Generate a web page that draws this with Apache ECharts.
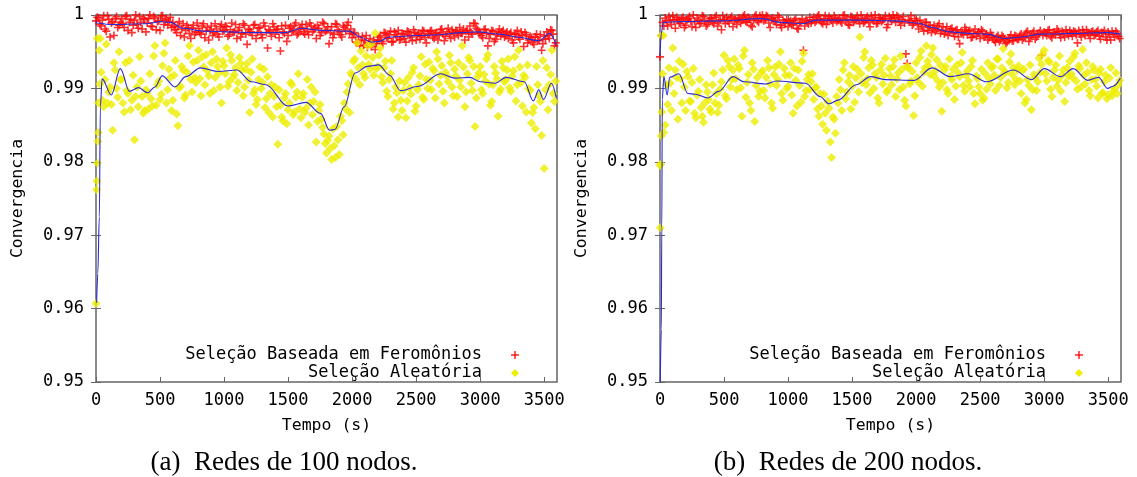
<!DOCTYPE html>
<html>
<head>
<meta charset="utf-8">
<script src="https://cdn.jsdelivr.net/npm/echarts@6/dist/echarts.min.js"></script>
<style>
  html, body { margin: 0; padding: 0; background: #fff; }
  #chart { width: 1137px; height: 477px; }
</style>
</head>
<body>
<div id="chart"></div>
<script>
// sample times for the scatter series: two interleaved runs, every 20 s
var times = [];
for (var t = 0; t < 3600; t += 20) times.push(t);

// (a) Redes de 100 nodos
var feroA = [
  0.9992, 0.9996, 0.9985, 0.9999, 0.9978, 0.9994, 0.9989, 0.9972, 0.9998, 0.9986,
  0.9995, 0.9983, 0.9999, 0.9990, 0.9976, 0.9993, 0.9987, 0.9998, 0.9981, 0.9994,
  0.9989, 1.0000, 0.9984, 0.9996, 0.9991, 0.9979, 0.9999, 0.9993, 0.9986, 0.9997,
  0.9990, 0.9980, 0.9985, 0.9972, 0.9988, 0.9979, 0.9983, 0.9968, 0.9986, 0.9977,
  0.9982, 0.9974, 0.9988, 0.9978, 0.9966, 0.9985, 0.9976, 0.9981, 0.9970, 0.9987,
  0.9979, 0.9984, 0.9973, 0.9989, 0.9977, 0.9968, 0.9983, 0.9975, 0.9986, 0.9960,
  0.9980, 0.9972, 0.9987, 0.9976, 0.9983, 0.9969, 0.9985, 0.9955, 0.9978, 0.9988,
  0.9974, 0.9981, 0.9951, 0.9977, 0.9986, 0.9972, 0.9984, 0.9979, 0.9989, 0.9975,
  0.9983, 0.9977, 0.9987, 0.9973, 0.9985, 0.9980, 0.9968, 0.9982, 0.9976, 0.9988,
  0.9979, 0.9961, 0.9984, 0.9974, 0.9987, 0.9977, 0.9970, 0.9983, 0.9986, 0.9975,
  0.9969, 0.9976, 0.9962, 0.9958, 0.9971, 0.9965, 0.9956, 0.9968, 0.9960, 0.9953,
  0.9966, 0.9972, 0.9961, 0.9975, 0.9968, 0.9978, 0.9964, 0.9973, 0.9979, 0.9967,
  0.9974, 0.9963, 0.9977, 0.9970, 0.9980, 0.9966, 0.9975, 0.9971, 0.9978, 0.9962,
  0.9973, 0.9979, 0.9968, 0.9976, 0.9972, 0.9981, 0.9965, 0.9977, 0.9974, 0.9980,
  0.9970, 0.9977, 0.9983, 0.9975, 0.9966, 0.9979, 0.9985, 0.9974, 0.9988, 0.9980,
  0.9976, 0.9969, 0.9981, 0.9958, 0.9974, 0.9978, 0.9967, 0.9976, 0.9971, 0.9979,
  0.9972, 0.9968, 0.9976, 0.9962, 0.9974, 0.9970, 0.9977, 0.9957, 0.9973, 0.9966,
  0.9969, 0.9960, 0.9974, 0.9965, 0.9952, 0.9971, 0.9977, 0.9968, 0.9979, 0.9958
];
var feroA2 = [
  0.9997, 0.9987, 0.9993, 0.9981, 0.9999, 0.9970, 0.9991, 0.9995, 0.9983, 0.9990,
  0.9988, 0.9998, 0.9979, 0.9994, 0.9986, 1.0000, 0.9982, 0.9990, 0.9996, 0.9977,
  0.9995, 0.9985, 0.9998, 0.9980, 0.9992, 0.9999, 0.9987, 0.9995, 0.9991, 0.9983,
  0.9984, 0.9976, 0.9991, 0.9981, 0.9970, 0.9986, 0.9975, 0.9982, 0.9973, 0.9989,
  0.9976, 0.9985, 0.9969, 0.9983, 0.9979, 0.9972, 0.9988, 0.9974, 0.9984, 0.9978,
  0.9985, 0.9971, 0.9980, 0.9976, 0.9987, 0.9979, 0.9970, 0.9988, 0.9974, 0.9981,
  0.9977, 0.9986, 0.9968, 0.9982, 0.9973, 0.9989, 0.9976, 0.9980, 0.9971, 0.9984,
  0.9980, 0.9969, 0.9985, 0.9975, 0.9964, 0.9982, 0.9977, 0.9986, 0.9973, 0.9981,
  0.9987, 0.9974, 0.9980, 0.9989, 0.9977, 0.9983, 0.9986, 0.9972, 0.9990, 0.9978,
  0.9984, 0.9976, 0.9969, 0.9988, 0.9980, 0.9973, 0.9985, 0.9978, 0.9990, 0.9981,
  0.9974, 0.9963, 0.9970, 0.9966, 0.9959, 0.9972, 0.9962, 0.9957, 0.9966, 0.9961,
  0.9970, 0.9964, 0.9976, 0.9969, 0.9973, 0.9963, 0.9977, 0.9970, 0.9966, 0.9975,
  0.9968, 0.9978, 0.9972, 0.9965, 0.9976, 0.9973, 0.9967, 0.9979, 0.9969, 0.9975,
  0.9978, 0.9970, 0.9975, 0.9966, 0.9980, 0.9974, 0.9971, 0.9982, 0.9968, 0.9976,
  0.9979, 0.9972, 0.9975, 0.9981, 0.9978, 0.9970, 0.9976, 0.9989, 0.9982, 0.9975,
  0.9972, 0.9980, 0.9975, 0.9968, 0.9979, 0.9964, 0.9973, 0.9981, 0.9977, 0.9970,
  0.9977, 0.9974, 0.9966, 0.9973, 0.9979, 0.9967, 0.9972, 0.9976, 0.9962, 0.9971,
  0.9963, 0.9970, 0.9966, 0.9973, 0.9961, 0.9967, 0.9972, 0.9980, 0.9974, 0.9962
];
var aleaA = [
  0.9607, 0.9880, 0.9922, 0.9875, 0.9960, 0.9895, 0.9878, 0.9935, 0.9900, 0.9950,
  0.9912, 0.9868, 0.9897, 0.9938, 0.9884, 0.9830, 0.9902, 0.9943, 0.9889, 0.9870,
  0.9893, 0.9920, 0.9876, 0.9958, 0.9905, 0.9885, 0.9931, 0.9962, 0.9898, 0.9915,
  0.9884, 0.9938, 0.9849, 0.9903, 0.9925, 0.9891, 0.9944, 0.9912, 0.9936, 0.9908,
  0.9952, 0.9890, 0.9929, 0.9946, 0.9917, 0.9935, 0.9897, 0.9940, 0.9921, 0.9880,
  0.9931, 0.9955, 0.9909, 0.9938, 0.9919, 0.9897, 0.9942, 0.9925, 0.9902, 0.9934,
  0.9867, 0.9940, 0.9898, 0.9885, 0.9929, 0.9908, 0.9874, 0.9916, 0.9893, 0.9861,
  0.9902, 0.9824, 0.9877, 0.9856, 0.9893, 0.9871, 0.9908, 0.9864, 0.9888, 0.9920,
  0.9860, 0.9893, 0.9873, 0.9850, 0.9902, 0.9882, 0.9827, 0.9870, 0.9858, 0.9838,
  0.9812, 0.9835, 0.9803, 0.9822, 0.9848, 0.9810, 0.9856, 0.9880, 0.9895, 0.9867,
  0.9918, 0.9940, 0.9962, 0.9905, 0.9932, 0.9915, 0.9958, 0.9926, 0.9942, 0.9975,
  0.9930, 0.9955, 0.9908, 0.9937, 0.9889, 0.9920, 0.9872, 0.9902, 0.9861, 0.9884,
  0.9897, 0.9860, 0.9915, 0.9892, 0.9928, 0.9876, 0.9905, 0.9943, 0.9885, 0.9912,
  0.9936, 0.9898, 0.9924, 0.9950, 0.9906, 0.9931, 0.9880, 0.9917, 0.9945, 0.9902,
  0.9926, 0.9889, 0.9911, 0.9958, 0.9875, 0.9920, 0.9938, 0.9897, 0.9848, 0.9916,
  0.9930, 0.9893, 0.9910, 0.9946, 0.9877, 0.9905, 0.9921, 0.9862, 0.9899, 0.9928,
  0.9912, 0.9940, 0.9896, 0.9924, 0.9883, 0.9952, 0.9908, 0.9918, 0.9868, 0.9900,
  0.9853, 0.9874, 0.9930, 0.9890, 0.9836, 0.9791, 0.9928, 0.9905, 0.9952, 0.9882
];
var aleaA2 = [
  0.9968, 0.9906, 0.9884, 0.9912, 0.9880, 0.9902, 0.9843, 0.9925, 0.9888, 0.9912,
  0.9880, 0.9935, 0.9893, 0.9871, 0.9918, 0.9889, 0.9875, 0.9910, 0.9866, 0.9898,
  0.9872, 0.9886, 0.9944, 0.9877, 0.9910, 0.9892, 0.9948, 0.9880, 0.9926, 0.9870,
  0.9918, 0.9865, 0.9901, 0.9930, 0.9887, 0.9922, 0.9958, 0.9895, 0.9915, 0.9938,
  0.9913, 0.9943, 0.9905, 0.9924, 0.9893, 0.9950, 0.9915, 0.9930, 0.9902, 0.9937,
  0.9920, 0.9903, 0.9946, 0.9915, 0.9928, 0.9908, 0.9934, 0.9890, 0.9926, 0.9911,
  0.9922, 0.9893, 0.9878, 0.9912, 0.9900, 0.9926, 0.9886, 0.9867, 0.9905, 0.9889,
  0.9875, 0.9898, 0.9861, 0.9887, 0.9852, 0.9880, 0.9905, 0.9868, 0.9895, 0.9872,
  0.9888, 0.9867, 0.9912, 0.9880, 0.9864, 0.9895, 0.9855, 0.9878, 0.9847, 0.9825,
  0.9829, 0.9818, 0.9845, 0.9806, 0.9830, 0.9862, 0.9837, 0.9872, 0.9906, 0.9921,
  0.9937, 0.9912, 0.9928, 0.9951, 0.9920, 0.9944, 0.9933, 0.9960, 0.9918, 0.9927,
  0.9945, 0.9916, 0.9928, 0.9896, 0.9912, 0.9938, 0.9880, 0.9894, 0.9910, 0.9870,
  0.9908, 0.9883, 0.9901, 0.9922, 0.9869, 0.9898, 0.9917, 0.9888, 0.9933, 0.9900,
  0.9911, 0.9927, 0.9887, 0.9940, 0.9918, 0.9896, 0.9922, 0.9909, 0.9935, 0.9890,
  0.9917, 0.9935, 0.9902, 0.9929, 0.9895, 0.9942, 0.9907, 0.9930, 0.9887, 0.9921,
  0.9898, 0.9919, 0.9940, 0.9906, 0.9882, 0.9930, 0.9913, 0.9895, 0.9937, 0.9909,
  0.9925, 0.9901, 0.9917, 0.9943, 0.9905, 0.9929, 0.9876, 0.9915, 0.9932, 0.9897,
  0.9867, 0.9845, 0.9905, 0.9882, 0.9938, 0.9898, 0.9871, 0.9919, 0.9893, 0.9910
];
var aleaStartA = [[5, 0.9762], [8, 0.9774], [12, 0.9798], [15, 0.9828], [18, 0.9840], [26, 0.9952], [33, 0.9968]];
var feroTrendA = [
  [0, 0.9992], [6, 0.9989], [105, 0.9987], [389, 0.9988], [503, 0.9991], [588, 0.9990],
  [673, 0.9982], [844, 0.9978], [1014, 0.9977], [1241, 0.9976], [1469, 0.9976],
  [1611, 0.9982], [1753, 0.9979], [1980, 0.9978], [2065, 0.9970], [2151, 0.9963],
  [2207, 0.9964], [2293, 0.9970], [2520, 0.9972], [2662, 0.9973], [2861, 0.9976],
  [2975, 0.9977], [3145, 0.9974], [3287, 0.9970], [3458, 0.9965], [3543, 0.9975], [3594, 0.9959]
];
var aleaTrendA = [
  [5, 0.9608], [14, 0.9648], [26, 0.9725], [34, 0.9875], [48, 0.9913], [119, 0.9891],
  [190, 0.9927], [261, 0.9896], [332, 0.9901], [403, 0.9894], [460, 0.9902], [517, 0.9917],
  [617, 0.9902], [702, 0.9916], [815, 0.9928], [957, 0.9923], [1100, 0.9925], [1213, 0.9909],
  [1327, 0.9905], [1497, 0.9876], [1639, 0.9881], [1753, 0.9866], [1824, 0.9843],
  [1866, 0.9844], [1938, 0.9875], [2023, 0.9921], [2122, 0.9930], [2207, 0.9932],
  [2293, 0.9918], [2378, 0.9897], [2520, 0.9903], [2690, 0.9920], [2804, 0.9914],
  [2918, 0.9915], [3003, 0.9909], [3116, 0.9907], [3202, 0.9915], [3344, 0.9909],
  [3415, 0.9883], [3458, 0.9898], [3494, 0.9885], [3557, 0.9907], [3594, 0.9887]
];

// (b) Redes de 200 nodos
var feroB = [
  0.9943, 0.9990, 0.9996, 0.9985, 0.9993, 0.9999, 0.9982, 0.9994, 0.9988, 0.9997,
  0.9986, 0.9995, 0.9991, 1.0000, 0.9983, 0.9993, 0.9989, 0.9998, 0.9985, 0.9992,
  0.9996, 0.9988, 0.9999, 0.9991, 0.9980, 0.9994, 0.9997, 0.9989, 0.9998, 0.9992,
  0.9987, 0.9996, 0.9993, 1.0000, 0.9990, 0.9995, 0.9984, 0.9998, 0.9992, 0.9999,
  1.0000, 0.9994, 0.9998, 0.9983, 0.9996, 0.9991, 0.9999, 0.9986, 0.9993, 0.9989,
  0.9984, 0.9992, 0.9987, 0.9995, 0.9981, 0.9990, 0.9952, 0.9993, 0.9988, 0.9989,
  0.9997, 0.9992, 1.0000, 0.9990, 0.9995, 0.9987, 0.9998, 0.9993, 0.9999, 0.9991,
  0.9996, 0.9989, 1.0000, 0.9994, 0.9986, 0.9997, 0.9992, 0.9999, 0.9988, 0.9995,
  0.9991, 0.9998, 0.9984, 0.9994, 1.0000, 0.9989, 0.9996, 0.9993, 0.9999, 0.9987,
  0.9995, 1.0000, 0.9990, 0.9997, 0.9986, 0.9998, 0.9947, 0.9993, 0.9999, 0.9988,
  0.9992, 0.9981, 0.9987, 0.9978, 0.9990, 0.9983, 0.9976, 0.9986, 0.9980, 0.9988,
  0.9979, 0.9974, 0.9984, 0.9977, 0.9982, 0.9971, 0.9980, 0.9961, 0.9976, 0.9983,
  0.9973, 0.9979, 0.9970, 0.9981, 0.9975, 0.9968, 0.9978, 0.9972, 0.9966, 0.9976,
  0.9969, 0.9963, 0.9972, 0.9966, 0.9970, 0.9961, 0.9968, 0.9973, 0.9965, 0.9971,
  0.9967, 0.9974, 0.9969, 0.9976, 0.9964, 0.9972, 0.9978, 0.9970, 0.9975, 0.9945,
  0.9977, 0.9972, 0.9980, 0.9969, 0.9976, 0.9981, 0.9973, 0.9978, 0.9970, 0.9975,
  0.9979, 0.9971, 0.9977, 0.9962, 0.9974, 0.9980, 0.9972, 0.9976, 0.9968, 0.9978,
  0.9973, 0.9979, 0.9967, 0.9975, 0.9970, 0.9977, 0.9966, 0.9974, 0.9978, 0.9971
];
var feroB2 = [
  0.9972, 0.9985, 0.9992, 0.9998, 0.9987, 0.9993, 0.9997, 0.9989, 0.9995, 0.9983,
  0.9993, 0.9998, 0.9984, 0.9991, 0.9996, 0.9988, 0.9999, 0.9992, 0.9987, 0.9995,
  0.9990, 0.9997, 0.9985, 0.9993, 0.9999, 0.9988, 0.9992, 0.9996, 0.9984, 0.9994,
  0.9995, 0.9989, 0.9998, 0.9991, 0.9997, 0.9986, 0.9993, 1.0000, 0.9990, 0.9996,
  0.9992, 0.9999, 0.9989, 0.9995, 0.9993, 0.9987, 0.9997, 0.9983, 0.9990, 0.9994,
  0.9990, 0.9986, 0.9993, 0.9982, 0.9989, 0.9995, 0.9985, 0.9991, 0.9997, 0.9993,
  0.9990, 0.9998, 0.9994, 0.9988, 0.9999, 0.9992, 0.9995, 0.9989, 0.9996, 0.9993,
  0.9991, 0.9999, 0.9993, 0.9987, 0.9998, 0.9990, 0.9995, 0.9993, 1.0000, 0.9989,
  0.9996, 0.9990, 0.9999, 0.9992, 0.9988, 0.9997, 0.9991, 0.9995, 0.9983, 0.9998,
  0.9992, 0.9996, 0.9999, 0.9991, 0.9994, 0.9989, 0.9934, 0.9992, 0.9986, 0.9995,
  0.9988, 0.9993, 0.9984, 0.9990, 0.9979, 0.9986, 0.9982, 0.9978, 0.9985, 0.9975,
  0.9984, 0.9978, 0.9972, 0.9981, 0.9975, 0.9979, 0.9970, 0.9977, 0.9973, 0.9980,
  0.9978, 0.9969, 0.9975, 0.9971, 0.9977, 0.9980, 0.9970, 0.9974, 0.9969, 0.9972,
  0.9966, 0.9970, 0.9964, 0.9972, 0.9967, 0.9963, 0.9969, 0.9965, 0.9972, 0.9967,
  0.9972, 0.9966, 0.9971, 0.9978, 0.9969, 0.9975, 0.9967, 0.9973, 0.9979, 0.9972,
  0.9975, 0.9979, 0.9971, 0.9976, 0.9973, 0.9978, 0.9969, 0.9975, 0.9980, 0.9972,
  0.9975, 0.9978, 0.9973, 0.9979, 0.9970, 0.9976, 0.9980, 0.9974, 0.9977, 0.9972,
  0.9977, 0.9971, 0.9976, 0.9979, 0.9966, 0.9973, 0.9978, 0.9970, 0.9975, 0.9968
];
var aleaB = [
  0.9795, 0.9920, 0.9850, 0.9878, 0.9907, 0.9955, 0.9925, 0.9858, 0.9913, 0.9933,
  0.9870, 0.9916, 0.9882, 0.9927, 0.9860, 0.9896, 0.9874, 0.9854, 0.9905, 0.9885,
  0.9868, 0.9921, 0.9893, 0.9877, 0.9909, 0.9945, 0.9886, 0.9930, 0.9912, 0.9940,
  0.9898, 0.9927, 0.9862, 0.9952, 0.9908, 0.9880, 0.9935, 0.9855, 0.9915, 0.9896,
  0.9924, 0.9887, 0.9938, 0.9906, 0.9873, 0.9929, 0.9912, 0.9950, 0.9884, 0.9918,
  0.9903, 0.9935, 0.9866, 0.9911, 0.9925, 0.9881, 0.9948, 0.9897, 0.9919, 0.9909,
  0.9885, 0.9902, 0.9862, 0.9876, 0.9892, 0.9843, 0.9873, 0.9806, 0.9858, 0.9889,
  0.9912, 0.9870, 0.9935, 0.9895, 0.9918, 0.9903, 0.9881, 0.9926, 0.9970, 0.9908,
  0.9950, 0.9913, 0.9894, 0.9932, 0.9920, 0.9887, 0.9925, 0.9906, 0.9941, 0.9898,
  0.9917, 0.9930, 0.9889, 0.9921, 0.9944, 0.9902, 0.9876, 0.9928, 0.9910, 0.9863,
  0.9935, 0.9908, 0.9951, 0.9922, 0.9958, 0.9930, 0.9946, 0.9917, 0.9939, 0.9902,
  0.9869, 0.9925, 0.9898, 0.9940, 0.9912, 0.9885, 0.9932, 0.9916, 0.9949, 0.9896,
  0.9924, 0.9902, 0.9938, 0.9879, 0.9913, 0.9893, 0.9884, 0.9920, 0.9935, 0.9906,
  0.9930, 0.9897, 0.9940, 0.9915, 0.9954, 0.9922, 0.9908, 0.9947, 0.9928, 0.9912,
  0.9931, 0.9893, 0.9926, 0.9885, 0.9904, 0.9871, 0.9919, 0.9897, 0.9941, 0.9933,
  0.9952, 0.9910, 0.9936, 0.9889, 0.9925, 0.9903, 0.9944, 0.9918, 0.9882, 0.9928,
  0.9937, 0.9915, 0.9948, 0.9899, 0.9927, 0.9953, 0.9906, 0.9922, 0.9890, 0.9930,
  0.9912, 0.9887, 0.9926, 0.9894, 0.9918, 0.9891, 0.9928, 0.9896, 0.9921, 0.9905
];
var aleaB2 = [
  0.9972, 0.9840, 0.9905, 0.9928, 0.9870, 0.9893, 0.9915, 0.9937, 0.9880, 0.9902,
  0.9923, 0.9883, 0.9908, 0.9866, 0.9891, 0.9912, 0.9862, 0.9880, 0.9895, 0.9872,
  0.9905, 0.9880, 0.9867, 0.9899, 0.9925, 0.9890, 0.9938, 0.9902, 0.9925, 0.9913,
  0.9932, 0.9901, 0.9944, 0.9888, 0.9919, 0.9870, 0.9926, 0.9904, 0.9889, 0.9921,
  0.9897, 0.9915, 0.9928, 0.9880, 0.9919, 0.9904, 0.9933, 0.9893, 0.9927, 0.9900,
  0.9918, 0.9891, 0.9927, 0.9876, 0.9904, 0.9937, 0.9889, 0.9912, 0.9898, 0.9920,
  0.9900, 0.9872, 0.9893, 0.9851, 0.9866, 0.9882, 0.9827, 0.9861, 0.9839, 0.9880,
  0.9898, 0.9925, 0.9886, 0.9909, 0.9872, 0.9930, 0.9914, 0.9895, 0.9920, 0.9942,
  0.9905, 0.9928, 0.9938, 0.9900, 0.9915, 0.9880, 0.9933, 0.9918, 0.9895, 0.9927,
  0.9905, 0.9939, 0.9913, 0.9898, 0.9926, 0.9884, 0.9930, 0.9906, 0.9923, 0.9890,
  0.9915, 0.9942, 0.9903, 0.9928, 0.9937, 0.9919, 0.9955, 0.9924, 0.9910, 0.9932,
  0.9908, 0.9930, 0.9893, 0.9917, 0.9926, 0.9903, 0.9921, 0.9935, 0.9904, 0.9918,
  0.9910, 0.9930, 0.9893, 0.9917, 0.9902, 0.9926, 0.9887, 0.9899, 0.9913, 0.9928,
  0.9918, 0.9940, 0.9904, 0.9928, 0.9921, 0.9901, 0.9936, 0.9919, 0.9905, 0.9925,
  0.9910, 0.9924, 0.9880, 0.9912, 0.9932, 0.9898, 0.9915, 0.9909, 0.9922, 0.9947,
  0.9920, 0.9938, 0.9899, 0.9915, 0.9932, 0.9911, 0.9896, 0.9925, 0.9908, 0.9917,
  0.9920, 0.9943, 0.9910, 0.9931, 0.9902, 0.9918, 0.9935, 0.9897, 0.9912, 0.9925,
  0.9903, 0.9921, 0.9893, 0.9909, 0.9886, 0.9914, 0.9890, 0.9900, 0.9893, 0.9911
];
var aleaStartB = [[3, 0.9710], [6, 0.9797], [10, 0.9835], [14, 0.9868], [25, 0.9972]];
var feroTrendB = [
  [0, 0.9944], [10, 0.9975], [25, 0.9990], [147, 0.9991], [486, 0.9992], [797, 0.9995],
  [938, 0.9990], [1108, 0.9988], [1221, 0.9993], [1560, 0.9993], [1843, 0.9992],
  [2012, 0.9989], [2125, 0.9983], [2266, 0.9977], [2408, 0.9975], [2549, 0.9974],
  [2690, 0.9968], [2832, 0.9970], [2973, 0.9974], [3255, 0.9975], [3481, 0.9976], [3595, 0.9974]
];
var aleaTrendB = [
  [2, 0.9500], [10, 0.9571], [14, 0.9710], [18, 0.9885], [30, 0.9916], [56, 0.9891],
  [76, 0.9915], [147, 0.9920], [218, 0.9893], [274, 0.9892], [373, 0.9887], [458, 0.9896],
  [571, 0.9916], [656, 0.9909], [825, 0.9906], [910, 0.9910], [1136, 0.9907],
  [1249, 0.9889], [1320, 0.9879], [1390, 0.9884], [1532, 0.9905], [1645, 0.9916],
  [1758, 0.9912], [1984, 0.9911], [2125, 0.9928], [2266, 0.9916], [2408, 0.9920],
  [2549, 0.9909], [2761, 0.9925], [2902, 0.9912], [3001, 0.9927], [3128, 0.9916],
  [3227, 0.9927], [3340, 0.9911], [3425, 0.9915], [3496, 0.9900], [3538, 0.9903], [3595, 0.9914]
];

var legendNames = ['Seleção Baseada em Feromônios', 'Seleção Aleatória'];
var captions = ['(a)  Redes de 100 nodos.', '(b)  Redes de 200 nodos.'];

var MONO = '"DejaVu Sans Mono", monospace';
var plusPath = 'path://M3.2,0H4.8V3.2H8V4.8H4.8V8H3.2V4.8H0V3.2H3.2Z';
var gridLefts = [96, 660];

function pairs(vals, offset, extra) {
  return (extra || []).concat(vals.map(function (v, i) { return [times[i] + offset, v]; }));
}

var myChart = echarts.init(document.getElementById('chart'));

var grids = [], xAxes = [], yAxes = [], series = [], graphics = [];
gridLefts.forEach(function (left, g) {
  grids.push({ left: left, top: 15, width: 461, height: 367, show: true,
    borderColor: '#666', borderWidth: 1.5, backgroundColor: '#fff' });
  // bottom and top (mirror) x axes
  xAxes.push({
    type: 'value', gridIndex: g, min: 0, max: 3600, interval: 500,
    name: 'Tempo (s)', nameLocation: 'middle', nameGap: 35,
    nameTextStyle: { fontFamily: MONO, fontSize: 16.5, color: '#000' },
    axisLine: { show: false },
    axisTick: { inside: true, length: 5, lineStyle: { color: '#666' } },
    axisLabel: { margin: 10, showMaxLabel: false, fontFamily: MONO, fontSize: 17, color: '#000',
      formatter: function (v) { return String(v); } },
    splitLine: { show: false }
  });
  xAxes.push({
    type: 'value', gridIndex: g, position: 'top', min: 0, max: 3600, interval: 500,
    axisLine: { show: false },
    axisTick: { inside: true, length: 5, lineStyle: { color: '#666' } },
    axisLabel: { show: false }, splitLine: { show: false }
  });
  yAxes.push({
    type: 'value', gridIndex: g, min: 0.95, max: 1, interval: 0.01,
    name: 'Convergencia', nameLocation: 'middle', nameGap: 70,
    nameTextStyle: { fontFamily: MONO, fontSize: 16.5, color: '#000' },
    axisLine: { show: false },
    axisTick: { inside: true, length: 5, lineStyle: { color: '#666' } },
    axisLabel: {
      margin: 12, fontFamily: MONO, fontSize: 17, color: '#000',
      formatter: function (v) { return Math.abs(v - 1) < 1e-9 ? '1' : v.toFixed(2); }
    },
    splitLine: { show: false }
  });
  yAxes.push({
    type: 'value', gridIndex: g, position: 'right', min: 0.95, max: 1, interval: 0.01,
    axisLine: { show: false },
    axisTick: { inside: true, length: 5, lineStyle: { color: '#666' } },
    axisLabel: { show: false }, splitLine: { show: false }
  });

  // legend keys drawn by hand (gnuplot style: text then sample)
  var tx = left + 386, mx = left + 419;
  graphics.push(
    { type: 'text', x: tx, y: 355, style: { text: legendNames[0], align: 'right', verticalAlign: 'middle', font: '17px ' + MONO, fill: '#000' } },
    { type: 'text', x: tx, y: 373, style: { text: legendNames[1], align: 'right', verticalAlign: 'middle', font: '17px ' + MONO, fill: '#000' } },
    { type: 'line', shape: { x1: mx - 4, y1: 355, x2: mx + 4, y2: 355 }, style: { stroke: '#ff0000', lineWidth: 1.3 } },
    { type: 'line', shape: { x1: mx, y1: 351, x2: mx, y2: 359 }, style: { stroke: '#ff0000', lineWidth: 1.3 } },
    { type: 'polygon', shape: { points: [[mx, 369], [mx + 4, 373], [mx, 377], [mx - 4, 373]] }, style: { fill: '#eeee00' } },
    { type: 'text', x: left + 188, y: 463, style: { text: captions[g], align: 'center', verticalAlign: 'middle', font: '27px "Liberation Serif", serif', fill: '#000' } }
  );
});

function scatter(g, name, data, isFero) {
  return {
    name: name, type: 'scatter', xAxisIndex: g * 2, yAxisIndex: g * 2,
    symbol: isFero ? plusPath : 'diamond',
    symbolSize: isFero ? 8 : [9, 9],
    itemStyle: { color: isFero ? '#ff0000' : '#eeee00' },
    data: data, silent: true, animation: false
  };
}
function trend(g, data) {
  return {
    type: 'line', xAxisIndex: g * 2, yAxisIndex: g * 2,
    data: data, showSymbol: false, smooth: 0.35, smoothMonotone: 'x',
    lineStyle: { color: '#2a2ad2', width: 1.1 }, silent: true, animation: false, z: 5
  };
}

series.push(
  scatter(0, legendNames[0], pairs(feroA, 0).concat(pairs(feroA2, 10)), true),
  scatter(0, legendNames[1], pairs(aleaA, 0, aleaStartA).concat(pairs(aleaA2, 10))),
  trend(0, feroTrendA),
  trend(0, aleaTrendA),
  scatter(1, legendNames[0], pairs(feroB, 0).concat(pairs(feroB2, 10)), true),
  scatter(1, legendNames[1], pairs(aleaB, 0, aleaStartB).concat(pairs(aleaB2, 10))),
  trend(1, feroTrendB),
  trend(1, aleaTrendB)
);

myChart.setOption({
  animation: false,
  grid: grids,
  xAxis: xAxes,
  yAxis: yAxes,
  series: series,
  graphic: graphics
});

window.addEventListener('resize', function () {
  myChart.resize();
});
</script>
</body>
</html>
